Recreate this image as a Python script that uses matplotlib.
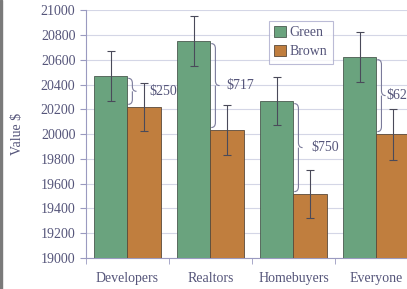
import numpy as np
import matplotlib.pyplot as plt
from matplotlib.path import Path
from matplotlib.patches import PathPatch, Rectangle

categories = ['Developers', 'Realtors', 'Homebuyers', 'Everyone']
green = [20470, 20750, 20266, 20621]
brown = [20220, 20033, 19516, 20000]
green_err = [200, 200, 195, 200]
brown_err = [195, 205, 195, 205]
gap_labels = ['$250', '$717', '$750', '$621']

plt.rcParams['font.family'] = ['Liberation Serif', 'DejaVu Serif']
txt = '#55557a'
grid_c = '#d4d6e6'

fig = plt.figure(figsize=(4.07, 2.89), dpi=100)
fig.patch.set_facecolor('white')
ax = fig.add_axes([0.211, 0.107, 0.816, 0.858])

x = np.arange(len(categories))
w = 0.4
ax.bar(x - w / 2, green, w, color='#6aa37e', edgecolor='#4a5a50',
       linewidth=0.6, label='Green', zorder=3)
ax.bar(x + w / 2, brown, w, color='#c07e3e', edgecolor='#5a4a3a',
       linewidth=0.6, label='Brown', zorder=3)
ax.errorbar(x - w / 2, green, yerr=green_err, fmt='none', ecolor='#4a4a5a',
            elinewidth=0.8, capsize=3, capthick=0.8, zorder=4)
ax.errorbar(x + w / 2, brown, yerr=brown_err, fmt='none', ecolor='#4a4a5a',
            elinewidth=0.8, capsize=3, capthick=0.8, zorder=4)


def brace(ax, x0, y_lo, y_hi, width, r):
    xm = x0 + width / 2
    ym = (y_lo + y_hi) / 2
    verts = [(x0, y_hi), (xm, y_hi), (xm, y_hi - r),
             (xm, ym + r),
             (xm, ym), (x0 + width, ym),
             (xm, ym), (xm, ym - r),
             (xm, y_lo + r),
             (xm, y_lo), (x0, y_lo)]
    codes = [Path.MOVETO, Path.CURVE3, Path.CURVE3,
             Path.LINETO,
             Path.CURVE3, Path.CURVE3,
             Path.MOVETO, Path.CURVE3,
             Path.LINETO,
             Path.CURVE3, Path.CURVE3]
    ax.add_patch(PathPatch(Path(verts, codes), fill=False, edgecolor='#7a7a9a',
                           linewidth=0.8, zorder=5))


# label offsets so the text clears the brown error bars
label_dx = [0.26, 0.19, 0.22, 0.12]
for i in range(len(categories)):
    brace(ax, x[i] + 0.01, brown[i] + 20, green[i] - 20, 0.1, 40)
    ax.text(x[i] + label_dx[i], (brown[i] + green[i]) / 2, gap_labels[i],
            color=txt, fontsize=10, va='center', ha='left', zorder=6)

ax.set_xlim(-0.5, 3.5)
ax.set_ylim(19000, 21000)
ax.set_yticks(np.arange(19000, 21001, 200))
ax.set_xticks(x)
ax.set_xticklabels(categories)
ax.set_xticks(np.arange(-0.5, 3.6, 1), minor=True)
ax.tick_params(axis='x', which='major', length=0, pad=10, colors=txt, labelsize=10)
ax.tick_params(axis='x', which='minor', length=4, color='#9a9ac0', direction='out')
ax.tick_params(axis='y', length=4, color='#9a9ac0', colors=txt, labelsize=10)
ax.set_ylabel('Value $', color=txt, fontsize=10, labelpad=12)
ax.grid(axis='y', color=grid_c, linewidth=0.8, zorder=0)
for s in ['top', 'right']:
    ax.spines[s].set_visible(False)
ax.spines['left'].set_color('#9a9ac0')
ax.spines['bottom'].set_color('#9a9ac0')

leg = ax.legend(loc='upper left', bbox_to_anchor=(0.53, 0.985), fontsize=10,
                frameon=True, fancybox=False, handlelength=0.8, handleheight=0.8,
                handletextpad=0.3, borderpad=0.4, labelspacing=0.4)
leg.get_frame().set_edgecolor('#aaaacc')
leg.get_frame().set_linewidth(0.8)
for t in leg.get_texts():
    t.set_color(txt)

fig.add_artist(Rectangle((0, 0), 0.006, 1, transform=fig.transFigure,
                         color='#7a7a7a', zorder=10))

fig.savefig('out.png', dpi=100)
